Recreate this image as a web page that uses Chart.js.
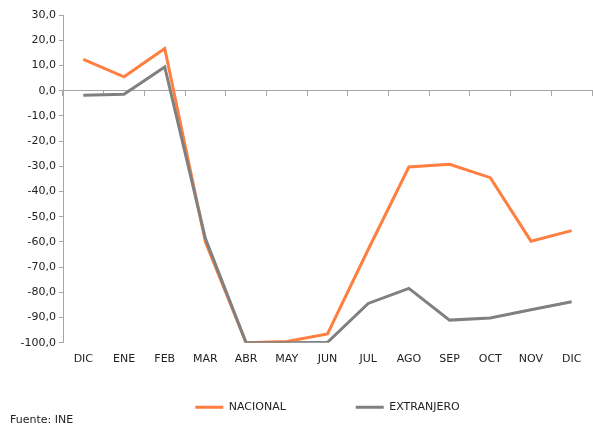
<!DOCTYPE html>
<html>
<head>
<meta charset="utf-8">
<script src="https://cdn.jsdelivr.net/npm/chart.js@4/dist/chart.umd.min.js"></script>
<style>
  html, body { margin: 0; padding: 0; background: #ffffff; }
  #wrap { width: 593px; height: 425px; position: relative; }
</style>
</head>
<body>
<div id="wrap"><canvas id="c" width="593" height="425"></canvas></div>
<script>
const categories = ['DIC','ENE','FEB','MAR','ABR','MAY','JUN','JUL','AGO','SEP','OCT','NOV','DIC'];
const nacional = [12.4, 5.5, 16.7, -60.0, -100.0, -99.5, -96.5, -63.0, -30.3, -29.2, -34.5, -59.7, -55.5];
const extranjero = [-1.8, -1.4, 9.4, -58.7, -100.0, -100.0, -99.8, -84.4, -78.4, -91.0, -90.2, -86.9, -83.7];
const seriesNames = ['NACIONAL', 'EXTRANJERO'];
const sourceText = 'Fuente: INE';

const FONT = 'DejaVu Sans, Verdana, sans-serif';
const TEXT = '#222222';
const AXIS = '#a6a6a6';
const ORANGE = '#ff7f40';
const GRAY = '#808080';
const GAP = '\u00a0'.repeat(20);

Chart.defaults.font.family = FONT;
Chart.defaults.font.size = 11;
Chart.defaults.color = TEXT;

new Chart(document.getElementById('c'), {
  type: 'line',
  data: {
    labels: categories,
    datasets: [
      { label: seriesNames[0], data: nacional, borderColor: ORANGE, backgroundColor: ORANGE,
        borderWidth: 3, pointRadius: 0, tension: 0, order: 1, xAxisID: 'x', yAxisID: 'y' },
      { label: seriesNames[1], data: extranjero, borderColor: GRAY, backgroundColor: GRAY,
        borderWidth: 3, pointRadius: 0, tension: 0, order: 0, xAxisID: 'x', yAxisID: 'y' }
    ]
  },
  options: {
    responsive: false,
    animation: false,
    layout: { padding: { left: 10, right: 1, top: 15, bottom: 0 } },
    scales: {
      x: {
        type: 'category',
        position: 'bottom',
        offset: true,
        grid: { display: false, drawTicks: false },
        border: { display: false },
        ticks: { padding: 10, color: TEXT, font: { size: 11 }, maxRotation: 0, autoSkip: false },
        afterFit: (s) => { s.height = 59; }
      },
      x2: {
        type: 'category',
        position: { y: 0 },
        offset: true,
        grid: { display: true, drawOnChartArea: false, drawTicks: true, tickLength: 5, offset: true, color: AXIS },
        border: { display: true, color: AXIS, width: 1 },
        ticks: { display: false }
      },
      y: {
        type: 'linear',
        position: 'left',
        min: -100,
        max: 30,
        grid: { display: true, drawOnChartArea: false, drawTicks: true, tickLength: 4, color: AXIS },
        border: { display: true, color: AXIS, width: 1 },
        ticks: {
          stepSize: 10,
          padding: 3,
          color: TEXT,
          font: { size: 11 },
          callback: (v) => Number(v).toFixed(1).replace('.', ',')
        },
        afterFit: (s) => { s.width = 53; }
      }
    },
    plugins: {
      legend: {
        display: true,
        position: 'bottom',
        fullSize: false,
        labels: {
          boxWidth: 28,
          boxHeight: 3,
          padding: 0,
          color: TEXT,
          font: { size: 11 },
          sort: (a, b) => a.datasetIndex - b.datasetIndex,
          generateLabels: (chart) => {
            const items = Chart.defaults.plugins.legend.labels.generateLabels(chart);
            items.forEach((it) => {
              it.lineWidth = 0;
              if (it.datasetIndex === 0) it.text = it.text + GAP;
            });
            return items;
          }
        }
      },
      subtitle: {
        display: true,
        text: sourceText,
        position: 'bottom',
        align: 'start',
        color: TEXT,
        font: { size: 11, weight: 'normal' },
        padding: { top: -9, bottom: -2 }
      },
      title: { display: false },
      tooltip: { enabled: false }
    }
  }
});
</script>
</body>
</html>
